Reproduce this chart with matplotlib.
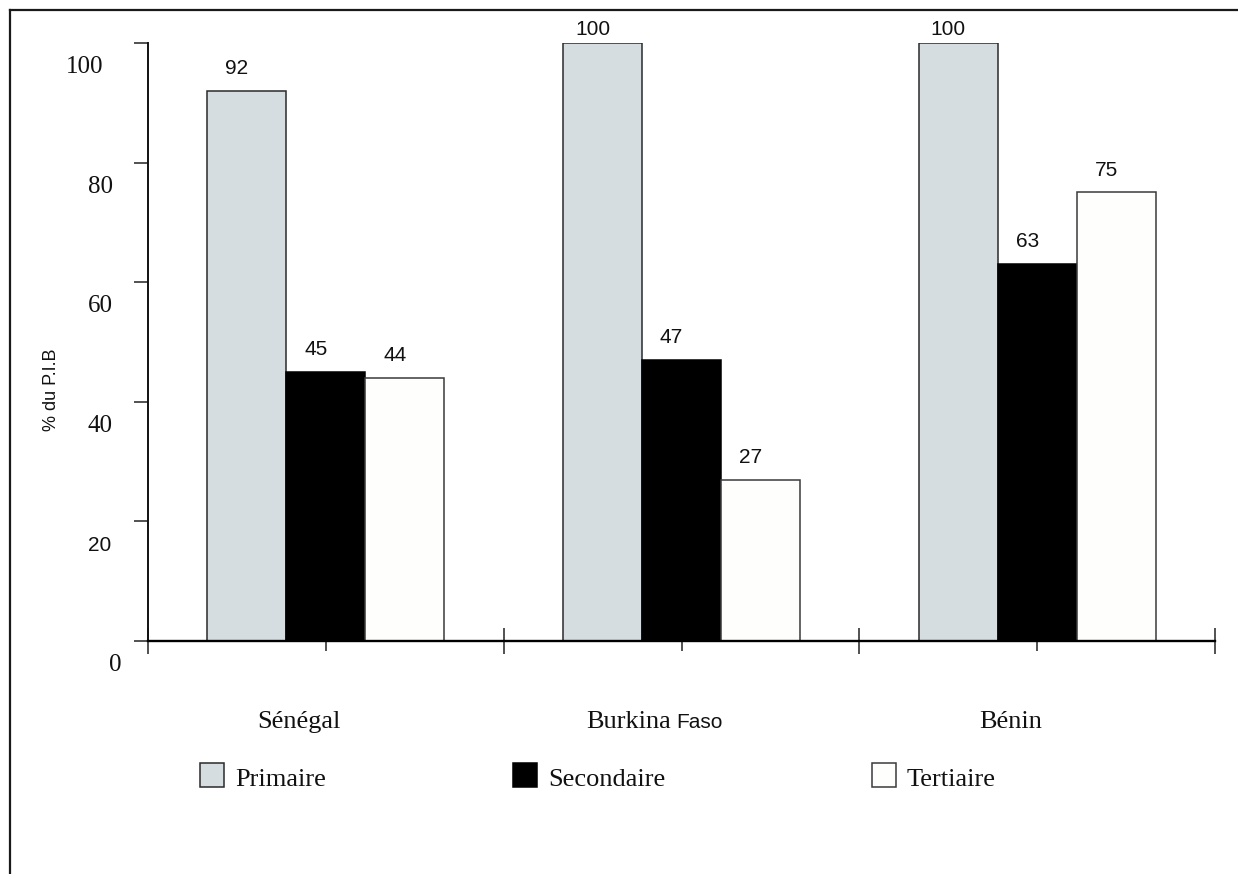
import matplotlib
matplotlib.use("Agg")
import matplotlib.pyplot as plt
from matplotlib.patches import Rectangle
from matplotlib.lines import Line2D
from matplotlib.transforms import blended_transform_factory

# ---------------- data ----------------
categories = ["Sénégal", "Burkina Faso", "Bénin"]
series_names = ["Primaire", "Secondaire", "Tertiaire"]
primaire = [92, 100, 100]
secondaire = [45, 47, 63]
tertiaire = [44, 27, 75]
y_ticks = [0, 20, 40, 60, 80, 100]
y_tick_labels = ["0", "20", "40", "60", "80", "100"]
y_label = "% du P.I.B"

# ---------------- style ----------------
SERIF = "Liberation Serif"
SANS = "Liberation Sans"
colors = ["#d5dde0", "#000000", "#fefefc"]
edges = ["#2a2a2a", "#000000", "#3a3a3a"]
y_tick_fonts = [SERIF, SANS, SERIF, SERIF, SERIF, SERIF]
y_tick_dx = [9, -2, 0, 0, 0, -10]   # small horizontal nudges (pixels) seen in the original
cat_segments = [[("Sénégal", SERIF)], [("Burkina", SERIF), ("Faso", SANS)], [("Bénin", SERIF)]]

W, H = 1238, 874
DPI = 100
fig = plt.figure(figsize=(W / DPI, H / DPI), dpi=DPI)
fig.patch.set_facecolor("white")

# axes rectangle in pixels: x 148..1215, y 43..641
ax = fig.add_axes([148 / W, 1 - 641 / H, (1215 - 148) / W, (641 - 43) / H])
ax.set_xlim(0, len(categories))
ax.set_ylim(0, 100)

bw = 0.222
series = [primaire, secondaire, tertiaire]
for s, vals in enumerate(series):
    for i, v in enumerate(vals):
        x = i + 0.5 + (s - 1) * bw
        ax.bar(x, v, width=bw, color=colors[s], edgecolor=edges[s], linewidth=1.1, zorder=2)
        dy = 8 if v >= 100 else 17
        ax.annotate(f"{v}", xy=(x, v), xytext=(-10, dy), textcoords="offset pixels",
                    ha="center", va="baseline", fontsize=15, family=SANS, color="#111111")

# spines
for sp in ["top", "right"]:
    ax.spines[sp].set_visible(False)
ax.spines["left"].set_linewidth(1.4)
ax.spines["bottom"].set_linewidth(1.7)
ax.spines["left"].set_color("#111111")
ax.spines["bottom"].set_color("#000000")

# y ticks
ax.set_yticks(y_ticks)
ax.set_yticklabels([])
ax.tick_params(axis="y", direction="out", length=10, width=1.1, color="#222222")
ytrans = blended_transform_factory(ax.transAxes, ax.transData)
for v, lab, fam, dx in zip(y_ticks, y_tick_labels, y_tick_fonts, y_tick_dx):
    fs = 18 if fam == SERIF else 15
    ax.annotate(lab, xy=(0, v), xycoords=ytrans, xytext=(-35 + dx, -30), textcoords="offset pixels",
                ha="right", va="baseline", fontsize=fs, family=fam, color="#111111")

# x ticks
ax.set_xticks(range(len(categories) + 1))
ax.set_xticks([i + 0.5 for i in range(len(categories))], minor=True)
ax.set_xticklabels([])
ax.tick_params(axis="x", which="major", direction="inout", length=18.7, width=1.1, color="#222222")
ax.tick_params(axis="x", which="minor", direction="out", length=7.2, width=1.1, color="#222222")

# category labels (segments of mixed fonts, centred as a group)
fig.canvas.draw()
renderer = fig.canvas.get_renderer()
xtrans = blended_transform_factory(ax.transData, ax.transAxes)
gap = 6
for i, segs in enumerate(cat_segments):
    texts = []
    widths = []
    for txt, fam in segs:
        fs = 19 if fam == SERIF else 15
        t = ax.annotate(txt, xy=(i + 0.5, 0), xycoords=xtrans, xytext=(0, -87),
                        textcoords="offset pixels", ha="left", va="baseline",
                        fontsize=fs, family=fam, color="#111111")
        texts.append(t)
        widths.append(t.get_window_extent(renderer).width)
    total = sum(widths) + gap * (len(segs) - 1)
    start = -27 - total / 2
    for t, w in zip(texts, widths):
        t.set_position((start, -87))
        start += w + gap

# y label
fig.text(51 / W, 1 - 390 / H, y_label, rotation=90, ha="center", va="center",
         fontsize=13, family=SANS, color="#111111")

# legend (manual)
leg_patch_x = [200, 513, 872]
for s, name in enumerate(series_names):
    px = leg_patch_x[s]
    fig.patches.append(Rectangle((px / W, 1 - 787 / H), 24 / W, 24 / H, transform=fig.transFigure,
                                 facecolor=colors[s], edgecolor=edges[s], linewidth=1.1))
    fig.text((px + 35) / W, 1 - 786 / H, name, ha="left", va="baseline",
             fontsize=19, family=SERIF, color="#111111")

# figure frame (left and top)
fig.add_artist(Line2D([10 / W, 10 / W], [0, 1 - 10 / H], transform=fig.transFigure,
                      color="#1a1a1a", linewidth=1.6))
fig.add_artist(Line2D([10 / W, 1], [1 - 10 / H, 1 - 10 / H], transform=fig.transFigure,
                      color="#1a1a1a", linewidth=1.6))

fig.savefig("out.png", dpi=DPI, facecolor="white")
